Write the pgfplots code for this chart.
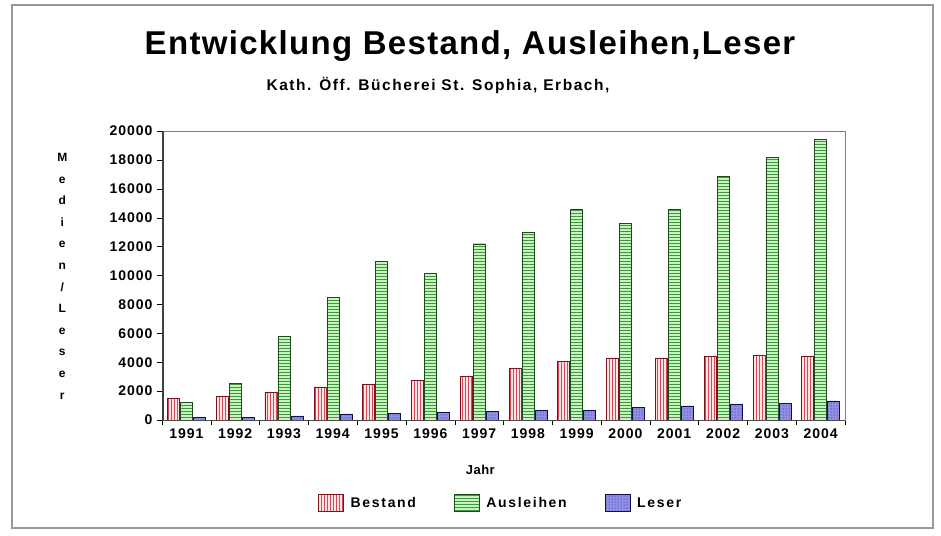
\documentclass[border=0pt]{standalone}
\usepackage{pgfplots}
\pgfplotsset{compat=1.18}
\usepackage{fontspec}
\setmainfont{Liberation Sans}
\usetikzlibrary{patterns}
\definecolor{bestfill}{HTML}{FFE4E4}
\definecolor{bestline}{HTML}{D84858}
\definecolor{bestedge}{HTML}{7A1020}
\definecolor{ausfill}{HTML}{C8F2C0}
\definecolor{ausline}{HTML}{3C9A3C}
\definecolor{ausedge}{HTML}{1E4A1E}
\definecolor{lesfill}{HTML}{9090E8}
\definecolor{lesline}{HTML}{1A1A70}
\definecolor{lesedge}{HTML}{101050}
\pgfplotstableread{
x Bestand Ausleihen Leser
0 1500 1200 200
1 1650 2550 200
2 1950 5800 280
3 2300 8500 420
4 2500 11000 460
5 2750 10150 510
6 3050 12200 620
7 3600 13000 690
8 4100 14600 690
9 4300 13600 880
10 4300 14600 970
11 4400 16850 1110
12 4500 18200 1160
13 4400 19400 1320
}\datatable
\begin{document}
\begin{tikzpicture}[x=1pt,y=1pt]
\path[use as bounding box] (0,0) rectangle (941,535);
\draw[gray!80, line width=1.5pt] (12,7) rectangle (933,530);
\node[font=\bfseries\fontsize{33}{36}\selectfont\addfontfeature{LetterSpace=4}] at (470,489) {Entwicklung Bestand, Ausleihen,Leser};
\node[font=\bfseries\fontsize{15.5}{17}\selectfont\addfontfeature{LetterSpace=10}] at (438,450) {Kath. Öff. Bücherei St. Sophia, Erbach,};
\begin{axis}[
  at={(162pt,115pt)}, anchor=south west,
  scale only axis, width=683pt, height=289pt,
  ybar=1pt, bar width=12pt,
  xmin=-0.5, xmax=13.5, ymin=0, ymax=20000,
  xtick=data,
  xticklabels={1991,1992,1993,1994,1995,1996,1997,1998,1999,2000,2001,2002,2003,2004},
  minor xtick={-0.5,0.5,...,13.5},
  major x tick style={draw=none},
  minor x tick style={black, thin},
  minor tick length=5pt,
  ytick={0,2000,...,20000},
  y tick style={black},
  major tick length=5pt,
  tick align=outside,
  tick pos=left,
  axis line style={gray},
  /pgf/number format/assume math mode=true,
  /pgf/number format/set thousands separator={},
  scaled y ticks=false,
  ticklabel style={font=\bfseries\fontsize{14}{14}\selectfont\addfontfeature{LetterSpace=7}},
  yticklabel style={xshift=-1pt},
  xlabel={Jahr},
  xlabel style={font=\bfseries\fontsize{13}{13}\selectfont\addfontfeature{LetterSpace=4}, at={(axis description cs:0.466,-0.173)}, anchor=center},
  ylabel={\begin{tabular}{@{}c@{}}M\\e\\d\\i\\e\\n\\/\\L\\e\\s\\e\\r\end{tabular}},
  ylabel style={rotate=-90, font=\bfseries\fontsize{12}{21.6}\selectfont, at={(axis description cs:-0.146,0.498)}, anchor=center},
  legend columns=3,
  legend style={draw=none, fill=none, at={(axis description cs:0.496,-0.287)}, anchor=center,
    font=\bfseries\fontsize{14}{14}\selectfont\addfontfeature{LetterSpace=12},
    /tikz/every odd column/.append style={column sep=5pt},
    /tikz/every even column/.append style={column sep=36pt}},
  legend image code/.code={\draw[#1] (0pt,-8pt) rectangle (25pt,9pt);},
]
\addplot[draw=bestedge, fill=bestfill, postaction={pattern=vertical lines, pattern color=bestline}] table[x=x,y=Bestand]{\datatable};
\addplot[draw=ausedge, fill=ausfill, postaction={pattern=horizontal lines, pattern color=ausline}] table[x=x,y=Ausleihen]{\datatable};
\addplot[draw=lesedge, fill=lesfill, postaction={pattern=dots, pattern color=lesline}] table[x=x,y=Leser]{\datatable};
\legend{Bestand,Ausleihen,Leser}
\draw[black!75, line width=3pt] (rel axis cs:0,0) -- (rel axis cs:0,1);
\draw[black!70, line width=1pt] (rel axis cs:0,0) -- (rel axis cs:1,0);
\end{axis}
\end{tikzpicture}
\end{document}
